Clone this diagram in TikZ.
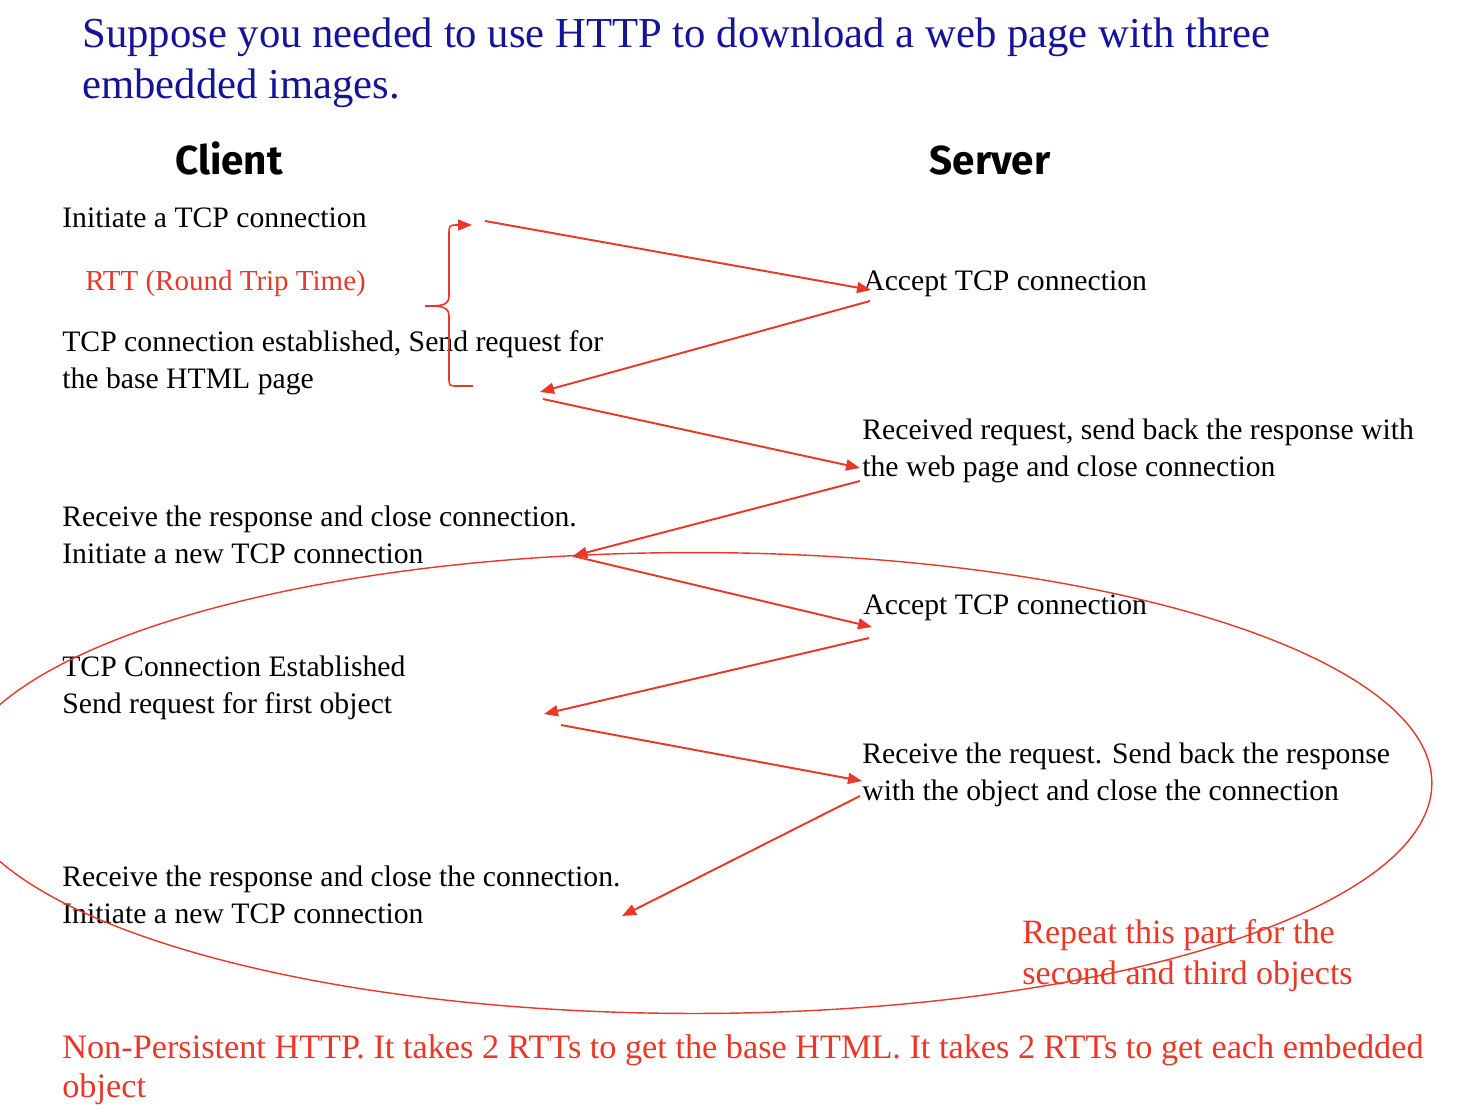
\documentclass[tikz,border=0pt]{standalone}
\usepackage{fontspec}
\setmainfont{Liberation Serif}
\newfontfamily\headfont{Fira Sans}
\usetikzlibrary{arrows.meta}

\definecolor{slidered}{RGB}{233,55,40}
\definecolor{slideblue}{RGB}{20,20,152}

\begin{document}
\begin{tikzpicture}[
  x=0.02cm, y=-0.02cm,
  txt/.style={anchor=base west, inner sep=0pt, align=left, font=\fontsize{16.9}{20.5}\selectfont},
  side/.style={anchor=base, inner sep=0pt, font=\headfont\bfseries\fontsize{23}{27}\selectfont},
  note/.style={txt, text=slidered},
  msg/.style={draw=slidered, line width=1.1pt, -{Triangle[length=2.8mm,width=2.2mm]}}
]
\useasboundingbox (0,0) rectangle (1484,1106);

% heading (multi-line texts sit on the baseline of their last line)
\node[txt, text=slideblue, font=\fontsize{24.3}{29}\selectfont] (title) at (82,98)
  {Suppose you needed to use HTTP to download a web page with three\\embedded images.};
\node[side] (client) at (229,174) {Client};
\node[side] (server) at (990,174) {Server};

% client side
\node[txt] (syn) at (62,227) {Initiate a TCP connection};
\node[note, font=\fontsize{16.5}{20}\selectfont] (rtt) at (85,290) {RTT (Round Trip Time)};
\node[txt] (req) at (62,388) {TCP connection established, Send request for\\the base HTML page};
\node[txt] (close) at (62,563) {Receive the response and close connection.\\Initiate a new TCP connection};
\node[txt] (req2) at (62,713) {TCP Connection Established\\Send request for first object};
\node[txt] (close2) at (62,923) {Receive the response and close the connection.\\Initiate a new TCP connection};

% server side
\node[txt] (acc) at (863,290) {Accept TCP connection};
\node[txt] (resp) at (862,476) {Received request, send back the response with\\the web page and close connection};
\node[txt] (acc2) at (863,614) {Accept TCP connection};
\node[txt] (resp2) at (862,800) {Receive the request. Send back the response\\with the object and close the connection};

% notes
\node[note, font=\fontsize{19.4}{22.8}\selectfont] (repeat) at (1022,984) {Repeat this part for the\\second and third objects};
\node[note, font=\fontsize{19.5}{22.2}\selectfont] (summary) at (62,1097)
  {Non-Persistent HTTP. It takes 2 RTTs to get the base HTML. It takes 2 RTTs to get each embedded\\object};

% message ends
\coordinate (synOut) at (485,221);
\coordinate (synIn) at (871,290);
\coordinate (ackOut) at (870,301);
\coordinate (ackIn) at (540,392);
\coordinate (reqOut) at (543,399);
\coordinate (reqIn) at (860,468);
\coordinate (respOut) at (860,481);
\coordinate (respIn) at (573,556);
\coordinate (syn2In) at (872,627);
\coordinate (ack2Out) at (869,638);
\coordinate (ack2In) at (544,714);
\coordinate (req2Out) at (561,725);
\coordinate (req2In) at (862,781);
\coordinate (resp2Out) at (860,796);
\coordinate (resp2In) at (622,916);

\draw[msg] (synOut) -- (synIn);
\draw[msg] (ackOut) -- (ackIn);
\draw[msg] (reqOut) -- (reqIn);
\draw[msg] (respOut) -- (respIn);
\draw[msg] (respIn) -- (syn2In);
\draw[msg] (ack2Out) -- (ack2In);
\draw[msg] (req2Out) -- (req2In);
\draw[msg] (resp2Out) -- (resp2In);

% brace for the round trip
\coordinate (braceLow) at (473,386);
\coordinate (braceTop) at (472,225);
\draw[msg, line width=0.9pt] (braceLow) -- (458,386)
  .. controls (449,386) .. (449,377) -- (449,316)
  .. controls (449,306) and (440,306) .. (425,306)
  .. controls (440,306) and (449,306) .. (449,296) -- (449,235)
  .. controls (449,225) .. (458,225) -- (braceTop);

% repeated part
\draw[slidered, line width=0.8pt] (694,783) ellipse [x radius=14.76cm, y radius=4.61cm];
\end{tikzpicture}
\end{document}
